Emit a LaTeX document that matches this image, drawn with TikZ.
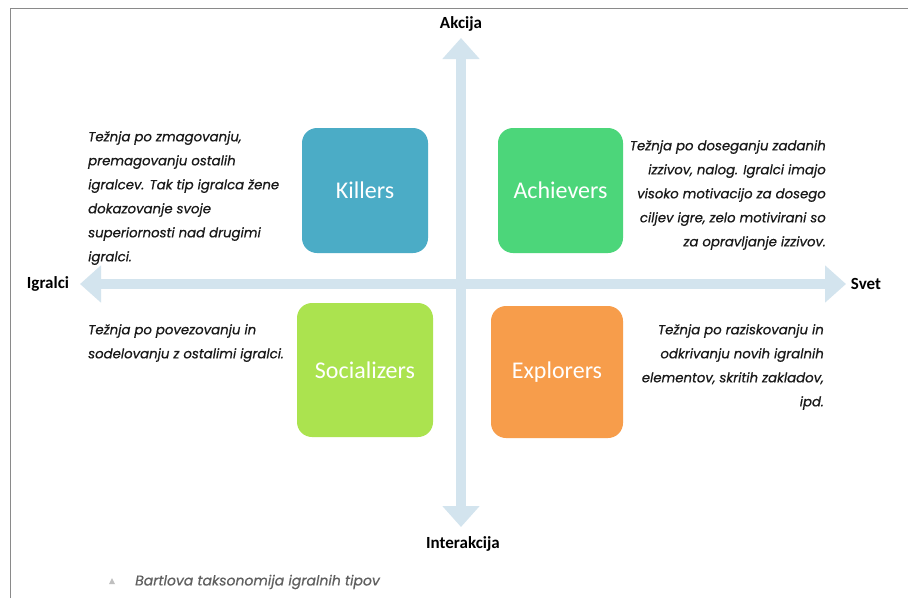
\documentclass[tikz,border=0pt]{standalone}
\usepackage{fontspec}
\usetikzlibrary{arrows.meta}
\newfontfamily\descfont{Poppins}[FakeBold=0.6]
\newfontfamily\labfont{Carlito}
\definecolor{axiscol}{HTML}{D3E4EE}
\definecolor{killcol}{HTML}{4BACC6}
\definecolor{achcol}{HTML}{4CD67A}
\definecolor{soccol}{HTML}{ABE34F}
\definecolor{expcol}{HTML}{F79D4B}
\definecolor{framecol}{HTML}{8A8A8A}
\definecolor{capcol}{HTML}{606060}
\tikzset{
  typebox/.style={rounded corners=15pt, inner sep=0pt, text=white,
    font=\labfont\fontsize{24}{28}\selectfont},
  desc/.style={inner sep=0pt, font=\descfont\itshape\fontsize{13.3}{24}\selectfont, text=black!90},
  axlabel/.style={inner sep=0pt, font=\labfont\bfseries\fontsize{17}{20}\selectfont},
  axisline/.style={draw=axiscol, line width=10pt,
    {Triangle[width=36pt,length=21pt,fill=axiscol]}-{Triangle[width=36pt,length=21pt,fill=axiscol]}},
}
\begin{document}
\begin{tikzpicture}[x=1pt,y=-1pt]
\useasboundingbox[fill=white] (0,0) rectangle (908,598);
\draw[framecol, line width=0.8pt] (10,598) -- (10,8) -- (908,8);

% axis labels
\node[axlabel] (akcija) at (461,24) {Akcija};
\node[axlabel] (interakcija) at (463,544) {Interakcija};
\node[axlabel] (igralci) at (48,284) {Igralci};
\node[axlabel] (svet) at (866,284) {Svet};

\coordinate (top) at (461,38);
\coordinate (bottom) at (461,527);
\coordinate (left) at (80,284);
\coordinate (right) at (846,284);
\draw[axisline] (left) -- (right);
\draw[axisline] (top) -- (bottom);

% boxes
\node[typebox, fill=killcol, minimum width=126pt, minimum height=125pt] (killers) at (365,190.5) {Killers};
\node[typebox, fill=achcol, minimum width=125pt, minimum height=125pt] (achievers) at (560.5,190.5) {Achievers};
\node[typebox, fill=soccol, minimum width=136pt, minimum height=134pt] (socializers) at (365,370) {Socializers};
\node[typebox, fill=expcol, minimum width=132pt, minimum height=132pt] (explorers) at (557,372) {Explorers};

% descriptions
\node[desc, anchor=north west, align=left] (dkill) at (88,131) {Težnja po zmagovanju,\\premagovanju ostalih\\igralcev. Tak tip igralca žene\\dokazovanje svoje\\superiornosti nad drugimi\\igralci.};
\node[desc, anchor=north east, align=right] (dach) at (826,140) {Težnja po doseganju zadanih\\izzivov, nalog. Igralci imajo\\visoko motivacijo za dosego\\ciljev igre, zelo motivirani so\\za opravljanje izzivov.};
\node[desc, anchor=north west, align=left] (dsoc) at (88,324) {Težnja po povezovanju in\\sodelovanju z ostalimi igralci.};
\node[desc, anchor=north east, align=right] (dexp) at (824,324) {Težnja po raziskovanju in\\odkrivanju novih igralnih\\elementov, skritih zakladov,\\ipd.};

% caption
\fill[black!25] (109,584) -- (115,584) -- (112,578) -- cycle;
\node[inner sep=0pt, anchor=west, text=capcol, font=\descfont\itshape\fontsize{14}{16}\selectfont] (caption) at (135,582) {Bartlova taksonomija igralnih tipov};
\end{tikzpicture}
\end{document}
